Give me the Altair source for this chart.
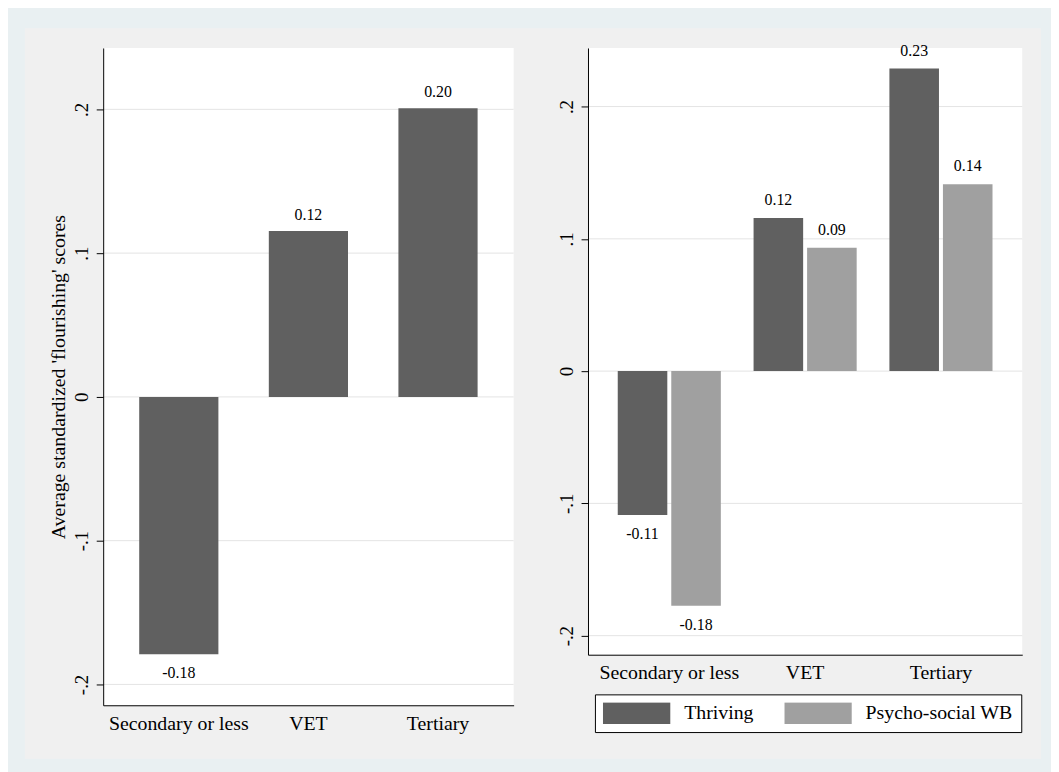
import altair as alt
import pandas as pd

# ---------------- data ----------------
CATEGORIES = ["Secondary or less", "VET", "Tertiary"]
OVERALL = [-0.179, 0.1153, 0.2007]
SERIES = ["Thriving", "Psycho-social WB"]
THRIVING = [-0.1088, 0.1158, 0.2287]
PSYCHO = [-0.1774, 0.0933, 0.1413]
Y_TICKS = [-0.2, -0.1, 0.0, 0.1, 0.2]
Y_TICK_LABELS = ["-.2", "-.1", "0", ".1", ".2"]
Y_TITLE = "Average standardized 'flourishing' scores"
COLORS = ["#606060", "#a0a0a0"]

# ---------------- style / layout ----------------
FONT = "Liberation Serif"
W1, H1 = 414, 663
W2, H2 = 438, 612
DOMAIN1 = [-0.2145, 0.2427]
DOMAIN2 = [-0.2144, 0.2443]

label_expr = ""
for v, lab in zip(Y_TICKS, Y_TICK_LABELS):
    label_expr += f"abs(datum.value - ({v})) < 1e-6 ? '{lab}' : "
label_expr += "''"


def fmt(v):
    return f"{v:.2f}"


df1 = pd.DataFrame({"category": CATEGORIES, "value": OVERALL,
                    "label": [fmt(v) for v in OVERALL]})
rows = []
for s, vals in zip(SERIES, [THRIVING, PSYCHO]):
    for c, v in zip(CATEGORIES, vals):
        rows.append({"category": c, "series": s, "value": v, "label": fmt(v)})
df2 = pd.DataFrame(rows)
ticks_df = pd.DataFrame({"value": Y_TICKS})
dummy = pd.DataFrame({"k": [0]})


def y_enc(domain, h, with_title):
    kw = dict(values=Y_TICKS, labelExpr=label_expr, labelAngle=270,
              labelAlign="center", labelBaseline="alphabetic", labelPadding=9,
              labelFont=FONT, labelFontSize=19, labelColor="black",
              tickSize=7, tickColor="black", domainColor="black",
              grid=False, zindex=1)
    if with_title:
        kw.update(title=Y_TITLE, titleFont=FONT, titleFontSize=20,
                  titleFontWeight="normal", titleColor="black",
                  titleX=-45, titleY=h / 2, titleAngle=270,
                  titleBaseline="middle", titleAlign="center")
    else:
        kw["title"] = None
    return alt.Y("value:Q", scale=alt.Scale(domain=domain, nice=False, zero=False),
                 axis=alt.Axis(**kw))


def x_enc(pi, po):
    return alt.X("category:N", sort=CATEGORIES,
                 scale=alt.Scale(paddingInner=pi, paddingOuter=po),
                 axis=alt.Axis(title=None, labelAngle=0, labelFont=FONT,
                               labelFontSize=20, labelColor="black",
                               labelPadding=8, ticks=False, domainColor="black",
                               grid=False, zindex=1))


# ---------------- left panel ----------------
bg_gray = alt.Chart(dummy).mark_rect(color="#f0f0f0").encode(
    x=alt.value(-79), x2=alt.value(946), y=alt.value(-20), y2=alt.value(717))
bg_white1 = alt.Chart(dummy).mark_rect(color="white").encode(
    x=alt.value(0), x2=alt.value("width"), y=alt.value(0), y2=alt.value("height"))
grid1 = alt.Chart(ticks_df).mark_rule(color="#e4e4e4", strokeWidth=1).encode(
    y=y_enc(DOMAIN1, H1, True))
xe1 = x_enc(0.389, 0.278)
bars1 = alt.Chart(df1).mark_bar(color=COLORS[0]).encode(
    x=xe1, y=y_enc(DOMAIN1, H1, True))
tpos1 = alt.Chart(df1).transform_filter("datum.value >= 0").mark_text(
    font=FONT, fontSize=16, baseline="middle", dy=-16, color="black").encode(
    x=xe1, y=y_enc(DOMAIN1, H1, True), text="label:N")
tneg1 = alt.Chart(df1).transform_filter("datum.value < 0").mark_text(
    font=FONT, fontSize=16, baseline="middle", dy=19, color="black").encode(
    x=xe1, y=y_enc(DOMAIN1, H1, True), text="label:N")
p1 = alt.layer(bg_gray, bg_white1, grid1, bars1, tpos1, tneg1).properties(
    width=W1, height=H1)

# ---------------- right panel ----------------
bg_white2 = alt.Chart(dummy).mark_rect(color="white").encode(
    x=alt.value(0), x2=alt.value("width"), y=alt.value(0), y2=alt.value("height"))
grid2 = alt.Chart(ticks_df).mark_rule(color="#e4e4e4", strokeWidth=1).encode(
    y=y_enc(DOMAIN2, H2, False))
xe2 = x_enc(0.241, 0.219)
xoff = alt.XOffset("series:N", sort=SERIES,
                   scale=alt.Scale(paddingInner=0.074, paddingOuter=0))
legend = alt.Legend(orient="none", legendX=496, legendY=652, direction="horizontal",
                    title=None, symbolType="M-1,-0.32L1,-0.32L1,0.32L-1,0.32Z",
                    symbolSize=4624, symbolStrokeWidth=0, symbolOpacity=1,
                    clipHeight=22, labelFont=FONT, labelFontSize=20,
                    labelColor="black", labelOffset=14, labelLimit=300,
                    columnPadding=31, padding=8, strokeColor="black",
                    fillColor="white")
bars2 = alt.Chart(df2).mark_bar().encode(
    x=xe2, xOffset=xoff, y=y_enc(DOMAIN2, H2, False),
    color=alt.Color("series:N", sort=SERIES,
                    scale=alt.Scale(domain=SERIES, range=COLORS), legend=legend))
tpos2 = alt.Chart(df2).transform_filter("datum.value >= 0").mark_text(
    font=FONT, fontSize=16, baseline="middle", dy=-18, color="black").encode(
    x=xe2, xOffset=xoff, y=y_enc(DOMAIN2, H2, False), text="label:N")
tneg2 = alt.Chart(df2).transform_filter("datum.value < 0").mark_text(
    font=FONT, fontSize=16, baseline="middle", dy=19, color="black").encode(
    x=xe2, xOffset=xoff, y=y_enc(DOMAIN2, H2, False), text="label:N")
p2 = alt.layer(bg_white2, grid2, bars2, tpos2, tneg2).properties(
    width=W2, height=H2)

chart = alt.hconcat(p1, p2, spacing=75, bounds="flush").properties(
    background="#e9f0f2",
    padding={"left": 16, "top": 16, "right": 9, "bottom": 10},
).configure_view(stroke="transparent")

chart.save("out.html", embed_options={"renderer": "svg", "actions": False})
